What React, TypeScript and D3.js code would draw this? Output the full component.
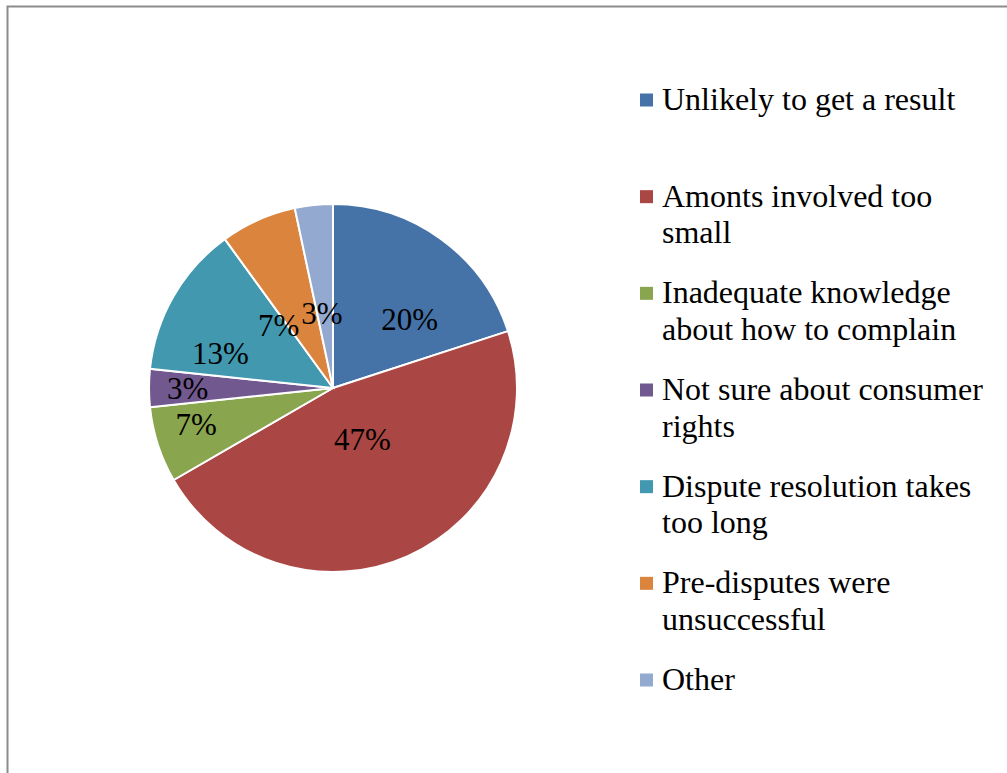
import React, { useMemo } from "react";
import * as d3 from "d3";

const categories = [
  "Unlikely to get a result",
  "Amonts involved too small",
  "Inadequate knowledge about how to complain",
  "Not sure about consumer rights",
  "Dispute resolution takes too long",
  "Pre-disputes were unsuccessful",
  "Other",
];
const counts = [6, 14, 2, 1, 4, 2, 1];
const colors = ["#4572A7", "#AA4643", "#89A54E", "#71588F", "#4198AF", "#DB843D", "#93A9CF"];
// label placement (angle in degrees clockwise from top, radius as fraction of pie radius)
const labelAngles = [48, 150, 255, 270, 287, 319, 351.5];
const labelRadii = [0.56, 0.32, 0.77, 0.79, 0.64, 0.45, 0.41];

const W = 1007;
const H = 773;
const FONT = "Liberation Serif";

function wrap(text: string, maxW: number, font: string): string[] {
  const canvas = document.createElement("canvas");
  const ctx = canvas.getContext("2d")!;
  ctx.font = font;
  const words = text.split(" ");
  const lines: string[] = [];
  let cur = "";
  for (const w of words) {
    const t = cur ? cur + " " + w : w;
    if (ctx.measureText(t).width > maxW && cur) {
      lines.push(cur);
      cur = w;
    } else cur = t;
  }
  if (cur) lines.push(cur);
  return lines;
}

export default function App() {
  const cx = 333;
  const cy = 388;
  const R = 184;
  const total = d3.sum(counts);
  const pie = d3.pie<number>().sort(null).value((d) => d)(counts);
  const arc = d3.arc<d3.PieArcDatum<number>>().innerRadius(0).outerRadius(R);
  const wrapped = useMemo(() => categories.map((c) => wrap(c, 334, "32px 'Liberation Serif'")), []);
  const legendY = d3.scaleLinear().domain([0, categories.length - 1]).range([100, 680]);

  return (
    <svg
      width={W}
      height={H}
      style={{ position: "absolute", left: 0, top: 0, background: "#fff" }}
    >
      <rect x={7.5} y={6.5} width={W + 10} height={H + 10} fill="#fff" stroke="#8c8c8c" strokeWidth={2} />
      <g transform={`translate(${cx},${cy})`}>
        {pie.map((p, i) => (
          <path key={i} d={arc(p) || ""} fill={colors[i]} stroke="#fff" strokeWidth={2} />
        ))}
        {pie.map((p, i) => {
          const a = (labelAngles[i] * Math.PI) / 180;
          const r = labelRadii[i] * R;
          const x = r * Math.sin(a);
          const y = -r * Math.cos(a);
          return (
            <text
              key={i}
              x={x}
              y={y}
              dy="0.34em"
              textAnchor="middle"
              fontFamily={FONT}
              fontSize={31}
              fill="#000"
            >
              {d3.format(".0%")(p.value / total)}
            </text>
          );
        })}
      </g>
      <g>
        {categories.map((c, i) => {
          const y0 = legendY(i);
          return (
            <g key={i}>
              <rect x={640} y={y0 - 6.5} width={13} height={13} fill={colors[i]} />
              {wrapped[i].map((line, j) => (
                <text
                  key={j}
                  x={662}
                  y={y0 + 10 + j * 36.7}
                  fontFamily={FONT}
                  fontSize={32}
                  fill="#000"
                >
                  {line}
                </text>
              ))}
            </g>
          );
        })}
      </g>
    </svg>
  );
}
